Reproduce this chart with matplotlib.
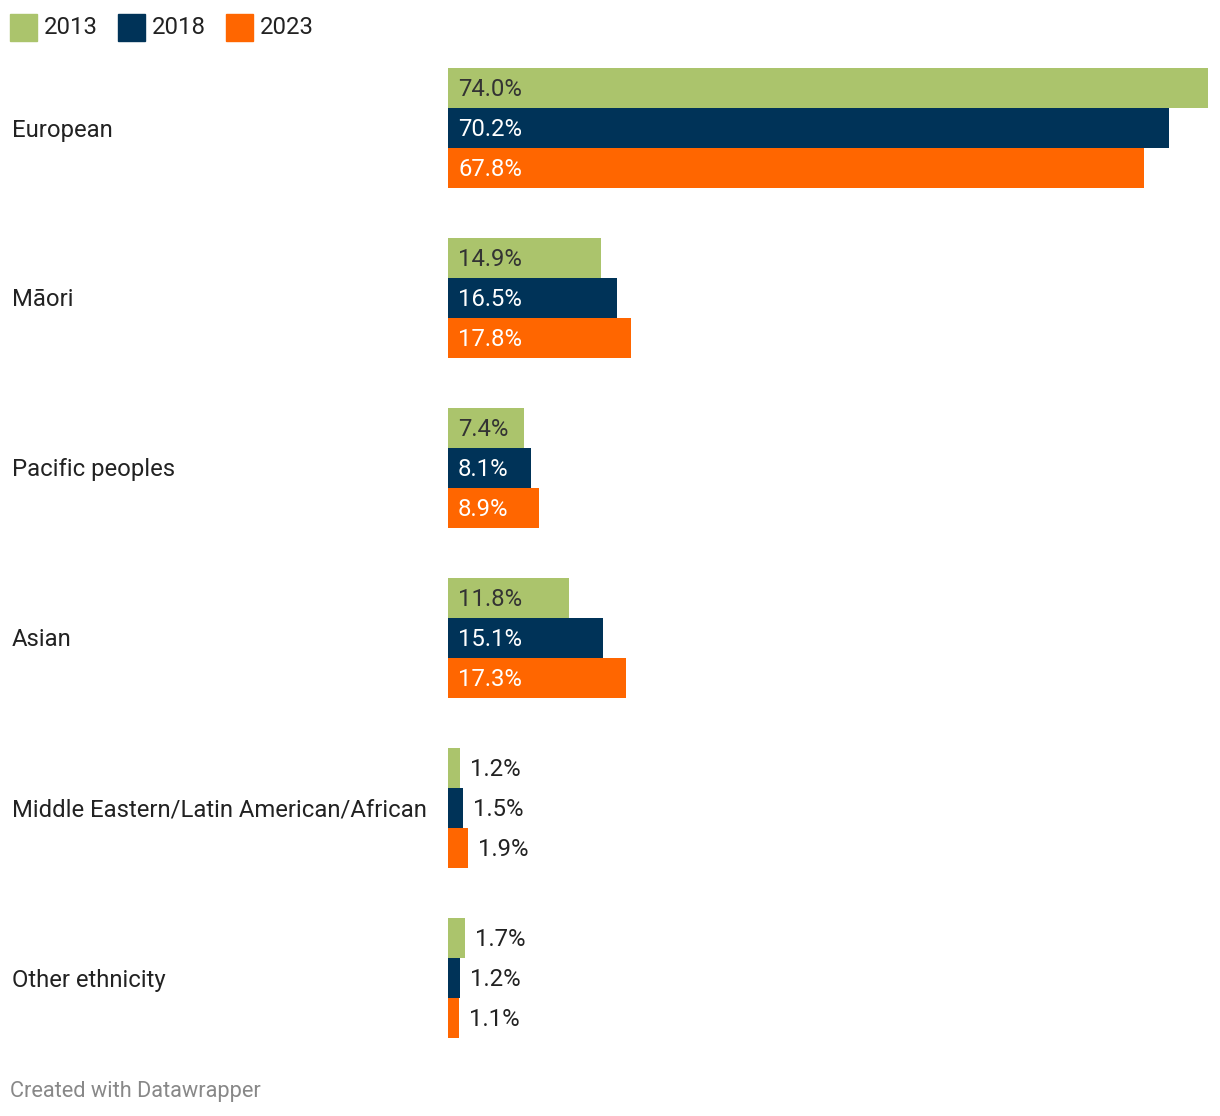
import matplotlib
matplotlib.use("Agg")
import matplotlib.pyplot as plt
from matplotlib.patches import Rectangle

plt.rcParams['font.family'] = ['Roboto', 'DejaVu Sans']

categories = ["European", "Māori", "Pacific peoples", "Asian",
              "Middle Eastern/Latin American/African", "Other ethnicity"]
years = ["2013", "2018", "2023"]
v2013 = [74.0, 14.9, 7.4, 11.8, 1.2, 1.7]
v2018 = [70.2, 16.5, 8.1, 15.1, 1.5, 1.2]
v2023 = [67.8, 17.8, 8.9, 17.3, 1.9, 1.1]
series = [v2013, v2018, v2023]
colors = ["#abc46c", "#003358", "#ff6600"]
inside_text = ["#333333", "white", "white"]

W, H = 1220, 1116
FS = 17.2
fig = plt.figure(figsize=(W / 100, H / 100), dpi=100)

# axes spans the bar area in pixels
left, right, top, bottom = 448, 1208, 68, 1038
ax = fig.add_axes([left / W, (H - bottom) / H, (right - left) / W, (bottom - top) / H])
ax.set_xlim(0, 74.0)
step, bh = 170, 40
ax.set_ylim(5 * step + 60, -60)
ax.axis("off")

px = 74.0 / (right - left)  # data units per pixel

for i, cat in enumerate(categories):
    yc = i * step
    for j, vals in enumerate(series):
        y = yc + (j - 1) * bh + 2
        v = vals[i]
        ax.barh(y - 2, v, height=bh, color=colors[j], linewidth=0)
        lab = f"{v:.1f}%"
        if v >= 5:
            ax.text(10 * px, y, lab, ha="left", va="center", fontsize=FS,
                    color=inside_text[j])
        else:
            ax.text(v + 10 * px, y, lab, ha="left", va="center", fontsize=FS,
                    color="#222222")
    # category label in figure pixel space
    fig.text(12 / W, 1 - (top + 62 + yc) / H, cat, ha="left", va="center",
             fontsize=FS, color="#222222")

# legend
lx = [10, 118, 226]
for j, yr in enumerate(years):
    fig.patches.append(Rectangle((lx[j] / W, 1 - 41 / H), 27 / W, 27 / H,
                                 transform=fig.transFigure, color=colors[j]))
    fig.text((lx[j] + 34) / W, 1 - 28 / H, yr, ha="left", va="center",
             fontsize=FS, color="#222222")

fig.text(10 / W, 1 - 1091 / H, "Created with Datawrapper", ha="left",
         va="center", fontsize=15.7, color="#888888")

fig.savefig("out.png", dpi=100, facecolor="white")
